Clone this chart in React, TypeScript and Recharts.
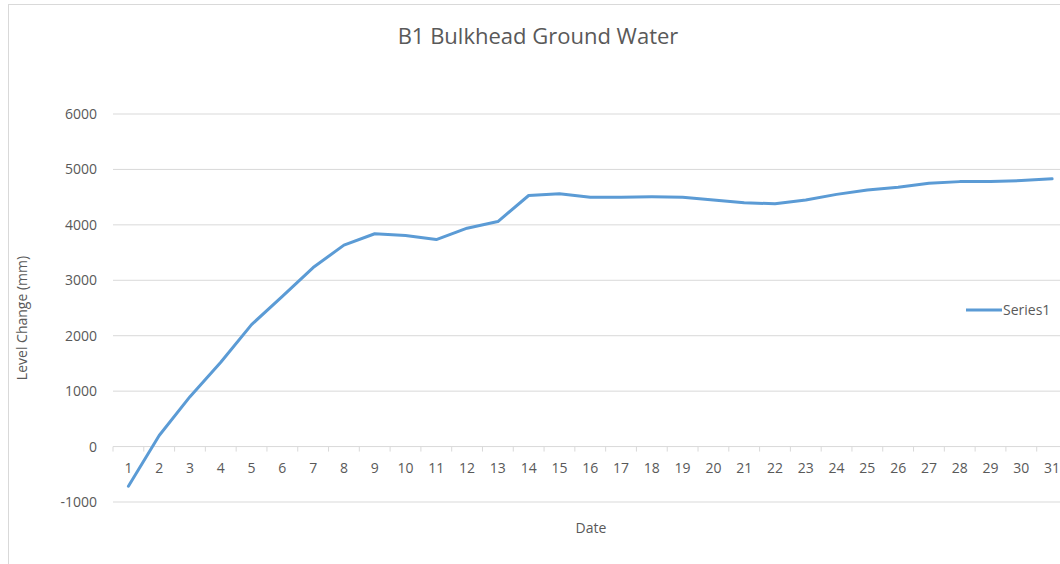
import React from 'react';
import { LineChart, Line, XAxis, YAxis, CartesianGrid, Legend } from 'recharts';

const days: number[] = [1, 2, 3, 4, 5, 6, 7, 8, 9, 10, 11, 12, 13, 14, 15, 16, 17, 18, 19, 20, 21, 22, 23, 24, 25, 26, 27, 28, 29, 30, 31];
const levels: number[] = [-715, 200, 900, 1520, 2200, 2710, 3230, 3635, 3840, 3810, 3735, 3940, 4060, 4530, 4560, 4500, 4500, 4505, 4500, 4450, 4400, 4380, 4450, 4550, 4630, 4680, 4750, 4780, 4780, 4800, 4830];
const yTicks: number[] = [-1000, 0, 1000, 2000, 3000, 4000, 5000, 6000];
const seriesName = 'Series1';
const title = 'B1 Bulkhead Ground Water';
const yLabel = 'Level Change (mm)';
const xLabel = 'Date';

const data = days.map((d, i) => ({ day: d, value: levels[i] }));

const CHART_W = 1070;
const CHART_H = 564;
const MARGIN = { top: 114, right: 2.5, bottom: 2, left: 0 };
const Y_AXIS_W = 113;
const X_AXIS_H = 60;
const PLOT_W = CHART_W - MARGIN.left - MARGIN.right - Y_AXIS_W;
const PLOT_H = CHART_H - MARGIN.top - MARGIN.bottom - X_AXIS_H;
const BAND = PLOT_W / days.length;
const Y_MIN = yTicks[0];
const Y_MAX = yTicks[yTicks.length - 1];
const ZERO_OFFSET = (PLOT_H * (0 - Y_MIN)) / (Y_MAX - Y_MIN);

const TEXT = '#595959';
const GRID = '#d9d9d9';
const LINE = '#5b9bd5';
const FONT = '"Open Sans", sans-serif';

const XTick = (props: any) => {
  const { x, y, payload } = props;
  const zeroY = y - ZERO_OFFSET;
  return (
    <g>
      <line x1={x - BAND / 2} x2={x - BAND / 2} y1={zeroY} y2={zeroY + 5} stroke={GRID} strokeWidth={1} />
      <text x={x} y={zeroY + 21} dy="0.355em" textAnchor="middle" fill={TEXT} fontSize={14} fontFamily={FONT}>
        {payload.value}
      </text>
    </g>
  );
};

const LegendContent = () => (
  <div style={{ display: 'flex', alignItems: 'center', fontFamily: FONT, fontSize: 14, color: TEXT }}>
    <svg width={38} height={10} style={{ display: 'block' }}>
      <line x1={1} x2={37} y1={5} y2={5} stroke={LINE} strokeWidth={3} />
    </svg>
    <span style={{ marginLeft: 0 }}>{seriesName}</span>
  </div>
);

export default function App() {
  return (
    <div style={{ position: 'absolute', left: 0, top: 0, width: 1060, height: 564, overflow: 'hidden', background: '#fff', fontFamily: FONT }}>
      <div style={{ position: 'absolute', left: 8, top: 4, width: 1200, height: 700, border: `1px solid ${GRID}`, boxSizing: 'border-box' }} />
      <div style={{ position: 'absolute', left: 0, top: 0 }}>
        <LineChart width={CHART_W} height={CHART_H} data={data} margin={MARGIN}>
          <CartesianGrid vertical={false} stroke={GRID} strokeWidth={1} />
          <XAxis
            dataKey="day"
            height={X_AXIS_H}
            interval={0}
            padding={{ left: BAND / 2, right: BAND / 2 }}
            axisLine={false}
            tickLine={false}
            tickSize={0}
            tickMargin={0}
            tick={<XTick />}
          />
          <YAxis
            width={Y_AXIS_W}
            domain={[Y_MIN, Y_MAX]}
            ticks={yTicks}
            interval={0}
            axisLine={false}
            tickLine={false}
            tickSize={0}
            tickMargin={16}
            tick={{ fill: TEXT, fontSize: 14, fontFamily: FONT }}
          />
          <Legend
            layout="vertical"
            verticalAlign="middle"
            align="center"
            content={<LegendContent />}
            wrapperStyle={{ left: 965, top: 300, width: 110 }}
          />
          <Line
            type="linear"
            dataKey="value"
            name={seriesName}
            stroke={LINE}
            strokeWidth={3}
            dot={false}
            strokeLinecap="round"
            strokeLinejoin="round"
            isAnimationActive={false}
          />
        </LineChart>
      </div>
      <div style={{ position: 'absolute', left: 0, width: 1076, top: 20, textAlign: 'center', fontSize: 22, color: TEXT, lineHeight: '30px' }}>
        {title}
      </div>
      <div style={{ position: 'absolute', left: 22, top: 318, transform: 'translate(-50%, -50%) rotate(-90deg)', whiteSpace: 'nowrap', fontSize: 14, color: TEXT, lineHeight: '18px' }}>
        {yLabel}
      </div>
      <div style={{ position: 'absolute', left: 591, top: 528, transform: 'translate(-50%, -50%)', whiteSpace: 'nowrap', fontSize: 14, color: TEXT, lineHeight: '18px' }}>
        {xLabel}
      </div>
    </div>
  );
}
